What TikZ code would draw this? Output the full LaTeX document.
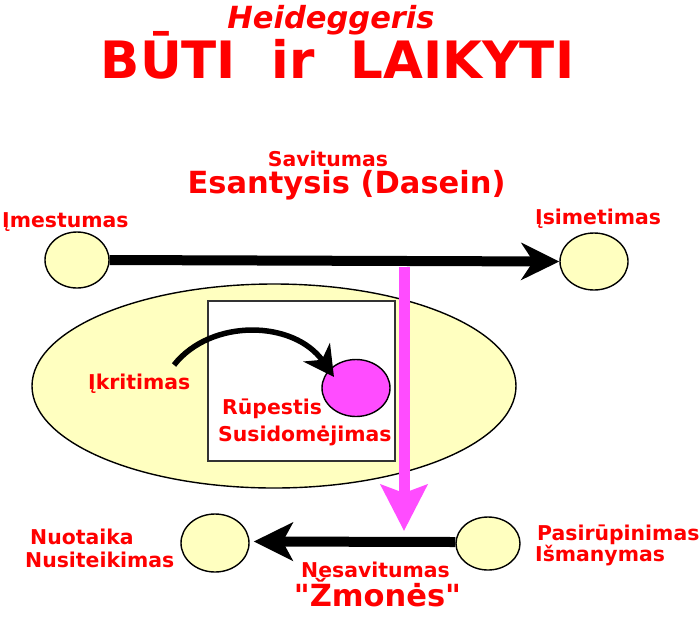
\documentclass[tikz,border=0pt]{standalone}
\usepackage{fontspec}
\setmainfont{DejaVu Sans}
\usetikzlibrary{shapes.geometric,arrows.meta}
\definecolor{lbl}{HTML}{FF0000}
\definecolor{yel}{HTML}{FFFFC0}
\definecolor{mag}{HTML}{FF4CFF}
\definecolor{boxgray}{HTML}{333333}
\newcommand{\straightq}{\XeTeXglyph\XeTeXcharglyph"22\relax}
\tikzset{
  ov/.style={ellipse, draw=black, line width=1.4pt, fill=yel, inner sep=0pt},
  lab/.style={text=lbl, inner sep=0pt, font=\bfseries\fontsize{20.4}{24}\selectfont},
  bigarrow/.style={line width=10pt, black, -{Stealth[length=38pt,width=37pt,inset=12pt]}},
  magarrow/.style={line width=11pt, mag, -{Stealth[length=46pt,width=46pt,inset=8pt]}},
  curvearrow/.style={line width=5.5pt, black, -{Stealth[length=30pt,width=32pt,inset=9pt]}}
}
\begin{document}
\begin{tikzpicture}[x=1pt,y=-1pt]
\useasboundingbox (0,0) rectangle (700,619);
% titles
\node[text=lbl, inner sep=0pt, anchor=base, font=\bfseries\itshape\fontsize{30.5}{36}\selectfont] (t1) at (331,28) {Heideggeris};
\node[text=lbl, inner sep=0pt, anchor=base, font=\bfseries\fontsize{51.5}{60}\selectfont] (t2) at (337.5,78) {BŪTI\ \ ir\ \ LAIKYTI};
\node[lab, anchor=base] (sav) at (328,166) {Savitumas};
\node[text=lbl, inner sep=0pt, anchor=base, font=\bfseries\fontsize{30.5}{36}\selectfont] (esa) at (346.5,193) {Esantysis (Dasein)};
% big ellipse and box
\node[ov, minimum width=484pt, minimum height=204pt] (big) at (274,386) {};
\node[draw=boxgray, line width=1.5pt, fill=white, minimum width=187pt, minimum height=160pt, inner sep=0pt] (box) at (301.5,381) {};
\node[ellipse, draw=black, line width=1.4pt, fill=mag, minimum width=68pt, minimum height=57pt, inner sep=0pt] (rup) at (356,388) {};
% small ellipses
\node[ov, minimum width=64pt, minimum height=56pt] (imes) at (77,260) {};
\node[ov, minimum width=68pt, minimum height=57pt] (isim) at (594,261.5) {};
\node[ov, minimum width=68pt, minimum height=58pt] (nuot) at (215,543) {};
\node[ov, minimum width=64pt, minimum height=53pt] (pasi) at (488,543.5) {};
% labels
\node[lab, anchor=base west] (l1) at (2,227) {Įmestumas};
\node[lab, anchor=base west] (l2) at (535,224) {Įsimetimas};
\node[lab, anchor=base west] (l3) at (88,389) {Įkritimas};
\node[lab, anchor=base west] (l4) at (222,414) {Rūpestis};
\node[lab, anchor=base west] (l5) at (218,441) {Susidomėjimas};
\node[lab, anchor=base west] (l6) at (30,544) {Nuotaika};
\node[lab, anchor=base west] (l7) at (25,567) {Nusiteikimas};
\node[lab, anchor=base west] (l8) at (537,540) {Pasirūpinimas};
\node[lab, anchor=base west] (l9) at (535,561) {Išmanymas};
\node[lab, anchor=base] (l10) at (375.5,577) {Nesavitumas};
\node[text=lbl, inner sep=0pt, anchor=base, font=\bfseries\fontsize{30.5}{36}\selectfont] (zm) at (377.5,606) {\straightq Žmonės\straightq};
% connectors
\draw[bigarrow] (imes.east) -- (isim.west);
\coordinate (cs) at (174,365);
\coordinate (ce) at (334,377);
\draw[curvearrow] (cs) .. controls (211,318) and (294,320) .. (ce);
\coordinate (ms) at (404,267);
\coordinate (me) at (404,531);
\draw[magarrow] (ms) -- (me);
\draw[bigarrow, -{Stealth[length=39pt,width=38pt,inset=10pt]}] ([yshift=1.5pt]pasi.west) -- ([xshift=4pt,yshift=1.5pt]nuot.east);
\end{tikzpicture}
\end{document}
